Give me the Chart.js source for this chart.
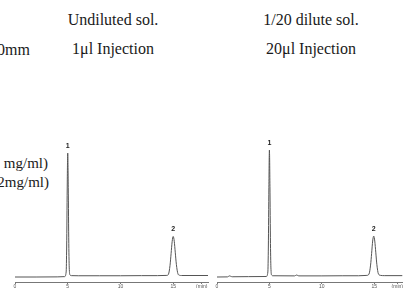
<!DOCTYPE html>
<html>
<head>
<meta charset="utf-8">
<script src="https://cdn.jsdelivr.net/npm/chart.js@4"></script>
<style>
  html, body { margin:0; padding:0; background:#fff; }
  body { width:403px; height:288px; position:relative; overflow:hidden; }
  .t { position:absolute; font-family:"Liberation Serif","Times New Roman",serif; font-size:16px; line-height:16px; color:#1a1a1a; white-space:nowrap; }
  canvas { position:absolute; }
</style>
</head>
<body>
<div class="t" style="left:40px;width:146px;text-align:center;top:12px;">Undiluted sol.</div>
<div class="t" style="left:40px;width:146px;text-align:center;top:41px;">1μl Injection</div>
<div class="t" style="left:238px;width:146px;text-align:center;top:12px;">1/20 dilute sol.</div>
<div class="t" style="left:238px;width:146px;text-align:center;top:41px;">20μl Injection</div>
<div class="t" style="left:-70px;width:100px;text-align:right;top:42px;">0mm</div>
<div class="t" style="left:-52px;width:100px;text-align:right;top:155px;font-size:15px;">mg/ml)</div>
<div class="t" style="left:-51px;width:100px;text-align:right;top:174px;font-size:15px;">2mg/ml)</div>

<canvas id="cL" width="210" height="158" style="left:0;top:130px;"></canvas>
<canvas id="cR" width="193" height="158" style="left:210px;top:130px;"></canvas>

<script>
// ---- data (retention time in min, detector signal in relative units) ----
const leftTime   = [0, 2, 4, 4.7, 4.85, 4.9, 4.95, 5.0, 5.05, 5.1, 5.15, 5.22, 5.35, 6, 8, 10, 12, 13.5, 14.4, 14.55, 14.7, 14.8, 14.9, 15.0, 15.1, 15.2, 15.3, 15.45, 15.6, 15.8, 16.5, 18.3];
const leftSignal = [0, 0, 0.1, 0.3, 4, 25, 71, 100, 72, 27, 6, 1.6, 1.1, 1.0, 1.0, 1.0, 1.1, 1.1, 1.3, 2.2, 9.4, 18.8, 28.5, 32.7, 28.8, 19.5, 10.2, 2.6, 1.4, 1.2, 1.2, 1.2];

const rightTime   = [0, 1.0, 1.2, 1.3, 1.45, 3, 4.7, 4.85, 4.9, 4.95, 5.0, 5.05, 5.1, 5.15, 5.22, 5.35, 7.4, 7.6, 7.8, 10, 12, 13.5, 14.3, 14.5, 14.65, 14.75, 14.85, 14.95, 15.05, 15.15, 15.25, 15.4, 15.6, 16, 17.7];
const rightSignal = [0, 0.1, 0.9, 0.6, 0.2, 0.3, 0.4, 4, 25, 72, 102.4, 73, 27, 6, 1.5, 1.0, 0.9, 1.6, 0.9, 0.9, 1.0, 1.0, 1.3, 2.4, 9.6, 19.0, 29.0, 33.0, 29.0, 19.5, 10.0, 2.5, 1.3, 1.1, 1.1];

const leftPeaks  = [{t: 5.0, v: 100, label: '1'}, {t: 15.0, v: 32.7, label: '2'}];
const rightPeaks = [{t: 5.0, v: 102.4, label: '1'}, {t: 14.95, v: 33.0, label: '2'}];

const tickValues = [0, 5, 10, 15];
const unitLabel = '(min)';
const leftUnitPos = 17.7;
const rightUnitPos = 17.2;

const peakLabelPlugin = {
  id: 'peakLabels',
  afterDatasetsDraw(chart, args, opts) {
    const {ctx, scales: {x, y}} = chart;
    ctx.save();
    ctx.font = 'bold 7px "Liberation Sans", Arial, sans-serif';
    ctx.fillStyle = '#222';
    ctx.textAlign = 'center';
    ctx.textBaseline = 'middle';
    opts.peaks.forEach(p => {
      ctx.fillText(p.label, x.getPixelForValue(p.t), y.getPixelForValue(p.v) - 7);
    });
    ctx.restore();
  }
};

function makeChart(id, times, signal, peaks, xMax, unitPos, padLeft, padRight) {
  return new Chart(document.getElementById(id), {
    type: 'line',
    data: {
      datasets: [{
        data: times.map((t, i) => ({x: t, y: signal[i]})),
        borderColor: '#555',
        borderWidth: 1,
        pointRadius: 0,
        cubicInterpolationMode: 'monotone',
        fill: false
      }]
    },
    options: {
      responsive: false,
      animation: false,
      devicePixelRatio: 1,
      layout: { autoPadding: false, padding: {top: 10, left: padLeft, right: padRight, bottom: 0} },
      plugins: { legend: {display: false}, tooltip: {enabled: false}, peakLabels: {peaks} },
      scales: {
        x: {
          type: 'linear',
          min: 0, max: xMax,
          afterBuildTicks: s => { s.ticks = tickValues.map(v => ({value: v})).concat([{value: unitPos}]); },
          afterFit: s => { s.height = 6; },
          grid: { drawOnChartArea: false, drawTicks: true, tickLength: 2, color: '#777' },
          border: { display: true, color: '#777', width: 1 },
          ticks: {
            padding: 0,
            autoSkip: false,
            maxRotation: 0,
            color: '#555',
            font: {size: 5, family: 'Arial, "Liberation Sans", sans-serif'},
            callback: v => (v === unitPos ? unitLabel : String(v))
          }
        },
        y: { display: false, min: -4.03, max: 110.5 }
      }
    },
    plugins: [peakLabelPlugin]
  });
}

makeChart('cL', leftTime, leftSignal, leftPeaks, 18.3, leftUnitPos, 15, 2);
makeChart('cR', rightTime, rightSignal, rightPeaks, 17.7, rightUnitPos, 7, 0);
</script>
</body>
</html>
